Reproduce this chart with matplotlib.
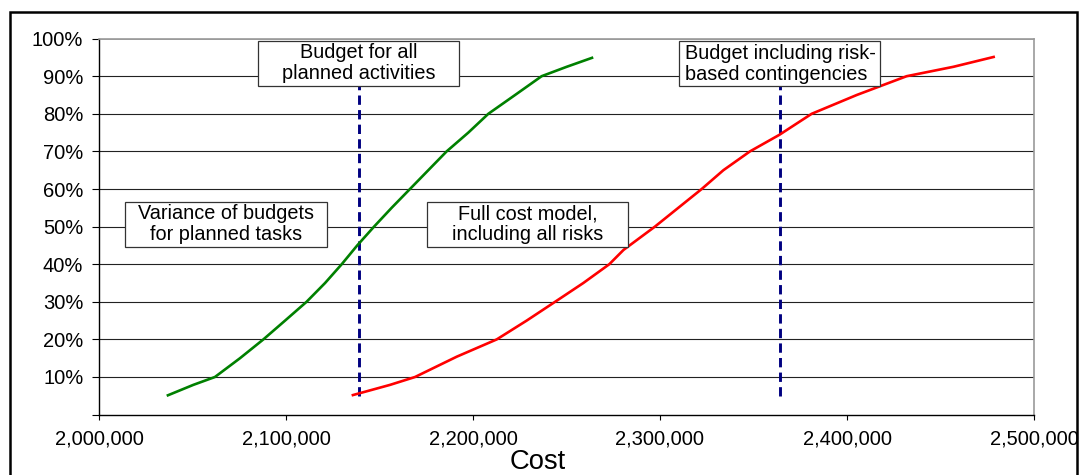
import matplotlib
matplotlib.use("Agg")
import matplotlib.pyplot as plt
from matplotlib.patches import Rectangle
from matplotlib.ticker import FixedLocator, FuncFormatter

# ---------------- data ----------------
green_cost = [2036200, 2050400, 2062000, 2075400, 2087900, 2099500, 2111000,
              2120900, 2129800, 2138100, 2147100, 2156500, 2166300, 2176100,
              2185900, 2197500, 2208200, 2222500, 2236700, 2250100, 2264300]
green_prob = [0.05, 0.079, 0.10, 0.15, 0.20, 0.25, 0.30,
              0.35, 0.40, 0.45, 0.50, 0.55, 0.60, 0.65,
              0.70, 0.75, 0.80, 0.85, 0.90, 0.925, 0.95]

red_cost = [2135100, 2155600, 2169000, 2191300, 2212700, 2228700, 2243900,
            2259000, 2272900, 2280500, 2297300, 2309800, 2322300, 2333900,
            2348100, 2363800, 2381100, 2405200, 2431900, 2456900, 2479100]
red_prob = [0.051, 0.079, 0.10, 0.154, 0.20, 0.25, 0.30,
            0.35, 0.40, 0.438, 0.50, 0.55, 0.60, 0.65,
            0.70, 0.744, 0.80, 0.85, 0.90, 0.925, 0.952]

budget_lines = [2139000, 2364000]

x_ticks = [2000000, 2100000, 2200000, 2300000, 2400000, 2500000]
y_ticks = [0.0, 0.1, 0.2, 0.3, 0.4, 0.5, 0.6, 0.7, 0.8, 0.9, 1.0]

x_label = "Cost"
box_texts = ["Budget for all\nplanned activities",
             "Budget including risk-\nbased contingencies",
             "Variance of budgets\nfor planned tasks",
             "Full cost model,\nincluding all risks"]

# ---------------- layout ----------------
plt.rcParams['font.family'] = ['Liberation Sans', 'DejaVu Sans']
W, H = 1080, 475
fig = plt.figure(figsize=(W / 100, H / 100), dpi=100)
fig.patch.set_facecolor('white')

ax = fig.add_axes([99 / W, 1 - 414.6 / H, 935 / W, 376 / H])
ax.set_xlim(2000000, 2500000)
ax.set_ylim(0, 1)

# grid lines
for yv in y_ticks[1:-1]:
    ax.axhline(yv, color='#222222', lw=0.8, zorder=1)
ax.axhline(1.0, color='#999999', lw=1.2, zorder=1)

# spines
for s in ['left', 'bottom']:
    ax.spines[s].set_color('black')
    ax.spines[s].set_linewidth(1.0)
for s in ['top', 'right']:
    ax.spines[s].set_color('#999999')
    ax.spines[s].set_linewidth(1.2)

ax.xaxis.set_major_locator(FixedLocator(x_ticks))
ax.xaxis.set_major_formatter(FuncFormatter(lambda v, p: f"{int(round(v)):,}"))
ax.yaxis.set_major_locator(FixedLocator(y_ticks))
ax.yaxis.set_major_formatter(FuncFormatter(lambda v, p: "" if v < 0.05 else f"{int(round(v * 100))}%"))
ax.tick_params(axis='y', direction='out', length=4.8, width=0.8, pad=6.5, labelsize=14.5, colors='black')
ax.tick_params(axis='x', direction='out', length=3.4, width=0.8, pad=7, labelsize=14.5, colors='black')

# curves
ax.plot(green_cost, green_prob, color='#008000', lw=1.9, zorder=4,
        solid_capstyle='butt', solid_joinstyle='round')
ax.plot(red_cost, red_prob, color='#FF0000', lw=1.9, zorder=4,
        solid_capstyle='butt', solid_joinstyle='round')

# dashed budget lines
for bx in budget_lines:
    ax.plot([bx, bx], [0.05, 0.875], color='#000080', lw=2.1,
            linestyle=(0, (3.2, 1.8)), zorder=3)

# text boxes (x0, x1, y0, y1) in data coords, alignment
boxes = [
    (2084900, 2192700, 0.875, 0.994, 'center'),
    (2310200, 2417600, 0.873, 0.994, 'left'),
    (2013700, 2121800, 0.447, 0.566, 'center'),
    (2175200, 2283000, 0.447, 0.566, 'center'),
]
for (x0, x1, y0, y1, ha), txt in zip(boxes, box_texts):
    ax.add_patch(Rectangle((x0, y0), x1 - x0, y1 - y0, facecolor='white',
                           edgecolor='#333333', lw=0.9, zorder=5))
    if ha == 'center':
        tx = (x0 + x1) / 2
    else:
        tx = x0 + 3300
    ax.text(tx, (y0 + y1) / 2, txt, ha=ha, va='center', multialignment=ha,
            fontsize=14.3, linespacing=1.12, zorder=6, color='black')

# x-axis title
fig.text(538 / W, 1 - 469 / H, x_label, ha='center', va='baseline', fontsize=19.7, color='black')

# outer border (bottom edge outside the image)
fig.add_artist(Rectangle((9.6 / W, -0.1), (1077 - 9.6) / W, (H - 12) / H + 0.1,
                         transform=fig.transFigure, fill=False, lw=1.8, ec='black'))

fig.savefig("out.png", dpi=100, facecolor='white')
